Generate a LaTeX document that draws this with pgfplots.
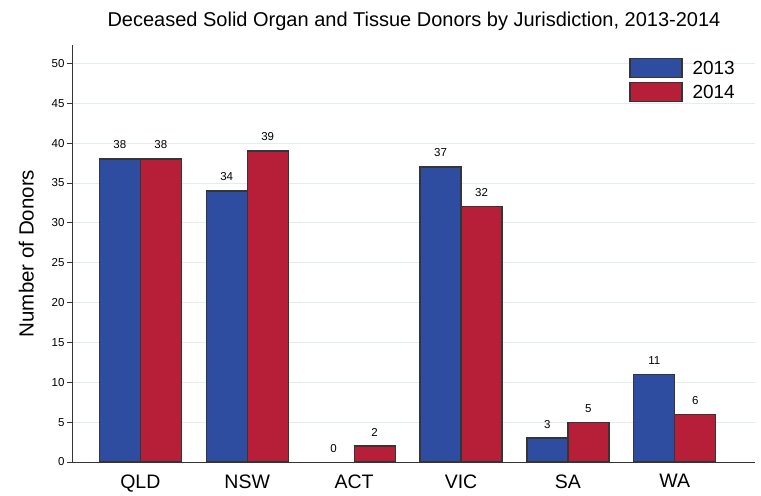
\documentclass[border=0pt]{standalone}
\usepackage{pgfplots}
\pgfplotsset{compat=1.18}
\usepackage{fontspec}
\setmainfont{Liberation Sans}
\definecolor{bblue}{HTML}{2E4DA0}
\definecolor{bred}{HTML}{B71E38}
\definecolor{edge}{HTML}{353535}
\definecolor{gridc}{HTML}{E3ECEE}
\begin{document}
\begin{tikzpicture}
\begin{axis}[
    scale only axis,
    width=682pt, height=417pt,
    ybar=0pt,
    bar width=41pt,
    xmin=-0.63, xmax=5.75,
    ymin=0, ymax=52.3,
    xtick={0,1,2,3,4,5},
    xticklabels={QLD,NSW,ACT,VIC,SA,WA},
    x tick label style={font=\fontsize{19.5}{19.5}\selectfont, yshift=-3pt},
    ytick={0,5,...,50},
    y tick label style={font=\fontsize{11.5}{11.5}\selectfont, xshift=1pt},
    /pgf/number format/assume math mode=true,
    major tick length=6pt,
    xtick style={draw=none},
    ytick style={draw=edge, line width=0.8pt},
    tick align=outside,
    axis x line*=bottom,
    axis y line*=left,
    axis line style={draw=edge, line width=1pt, -},
    ymajorgrids=true,
    grid style={gridc, line width=0.7pt},
    ylabel={Number of Donors},
    ylabel style={font=\fontsize{20.5}{20.5}\selectfont, yshift=11pt},
    title={Deceased Solid Organ and Tissue Donors by Jurisdiction, 2013-2014},
    title style={font=\fontsize{20}{20}\selectfont, yshift=5pt},
    nodes near coords,
    every node near coord/.append style={font=\fontsize{11.5}{11.5}\selectfont, black, yshift=6pt},
    legend style={draw=none, fill=none, at={(0.978,0.975)}, anchor=north east,
        font=\fontsize{19}{19}\selectfont, row sep=4pt},
    legend cell align=left,
    legend image code/.code={\draw[#1, line width=1.2pt] (0pt,-9pt) rectangle (52pt,10pt); \path (60pt,0pt);},
    clip=false,
]
\addplot[bar shift=-20.5pt, fill=bblue, draw=edge, line width=1.2pt]
  coordinates {(0,38) (1,34) (3,37) (4,3) (5,11)};
\addlegendentry{2013}
\addplot[bar shift=20.5pt, fill=bred, draw=edge, line width=1.2pt]
  coordinates {(0,38) (1,39) (2,2) (3,32) (4,5) (5,6)};
\addlegendentry{2014}
% ACT 2013 has no donors: label only, no bar outline
\addplot[bar shift=-20.5pt, draw=none, fill=none, forget plot]
  coordinates {(2,0)};
\end{axis}
\path (-73pt,-26pt) rectangle (688pt,462pt);
\end{tikzpicture}
\end{document}
